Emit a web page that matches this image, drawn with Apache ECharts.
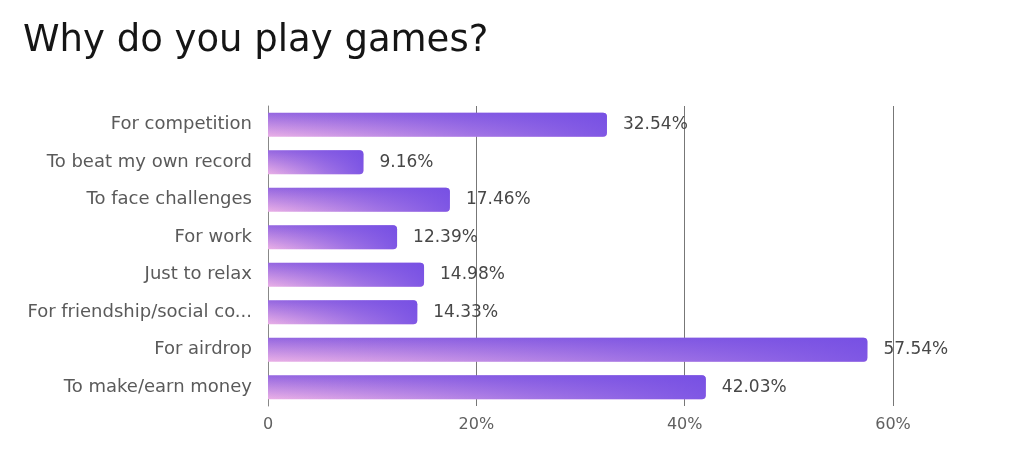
<!DOCTYPE html>
<html><head><meta charset="utf-8">
<script src="https://cdn.jsdelivr.net/npm/echarts@6/dist/echarts.min.js"></script>
<style>html,body{margin:0;padding:0;background:#fff}#c{width:1024px;height:452px}</style>
</head><body><div id="c"></div>
<script>
const title = "Why do you play games?";
const categories = ["For competition","To beat my own record","To face challenges","For work","Just to relax","For friendship/social co...","For airdrop","To make/earn money"];
const values = [32.54, 9.16, 17.46, 12.39, 14.98, 14.33, 57.54, 42.03];
const xTicks = [0, 20, 40, 60];

const FONT = 'DejaVu Sans';
const chart = echarts.init(document.getElementById('c'));
chart.setOption({
  animation: false,
  title: {text: title, left: 18, top: 18, textStyle: {fontFamily: FONT, fontSize: 37, fontWeight: 'normal', color: '#151515'}},
  grid: {left: 268, right: 131, top: 106, bottom: 46},
  xAxis: {
    type: 'value', min: xTicks[0], max: xTicks[xTicks.length-1], interval: 20,
    axisLine: {show: false}, axisTick: {show: false},
    splitLine: {show: true, lineStyle: {color: '#777', width: 1}},
    axisLabel: {formatter: v => v === 0 ? '0' : v + '%', color: '#606060', fontSize: 16, fontFamily: FONT, margin: 11}
  },
  yAxis: {
    type: 'category', data: categories, inverse: true,
    axisLine: {show: true, lineStyle: {color: '#888', width: 1}}, axisTick: {show: false},
    axisLabel: {color: '#5a5a5a', fontSize: 18, fontFamily: FONT, margin: 16}
  },
  series: [{
    type: 'bar', data: values, barWidth: 24,
    itemStyle: {
      borderRadius: [0, 4, 4, 0],
      color: new echarts.graphic.LinearGradient(0, 0, 0, 1, [
        {offset: 0, color: '#9466e0'},
        {offset: 1, color: '#eab0e6'}
      ])
    }
  }, {
    type: 'bar', data: values, barWidth: 24, barGap: '-100%',
    itemStyle: {
      borderRadius: [0, 4, 4, 0],
      color: new echarts.graphic.LinearGradient(0, 0, 1, 0, [
        {offset: 0, color: 'rgba(118,80,228,0)'},
        {offset: 0.6, color: 'rgba(118,80,228,0.6)'},
        {offset: 1, color: 'rgba(116,78,228,0.9)'}
      ])
    },
    label: {show: true, position: 'right', distance: 16, formatter: p => p.value.toFixed(2) + '%', color: '#474747', fontSize: 17, fontFamily: FONT}
  }]
});
</script></body></html>
